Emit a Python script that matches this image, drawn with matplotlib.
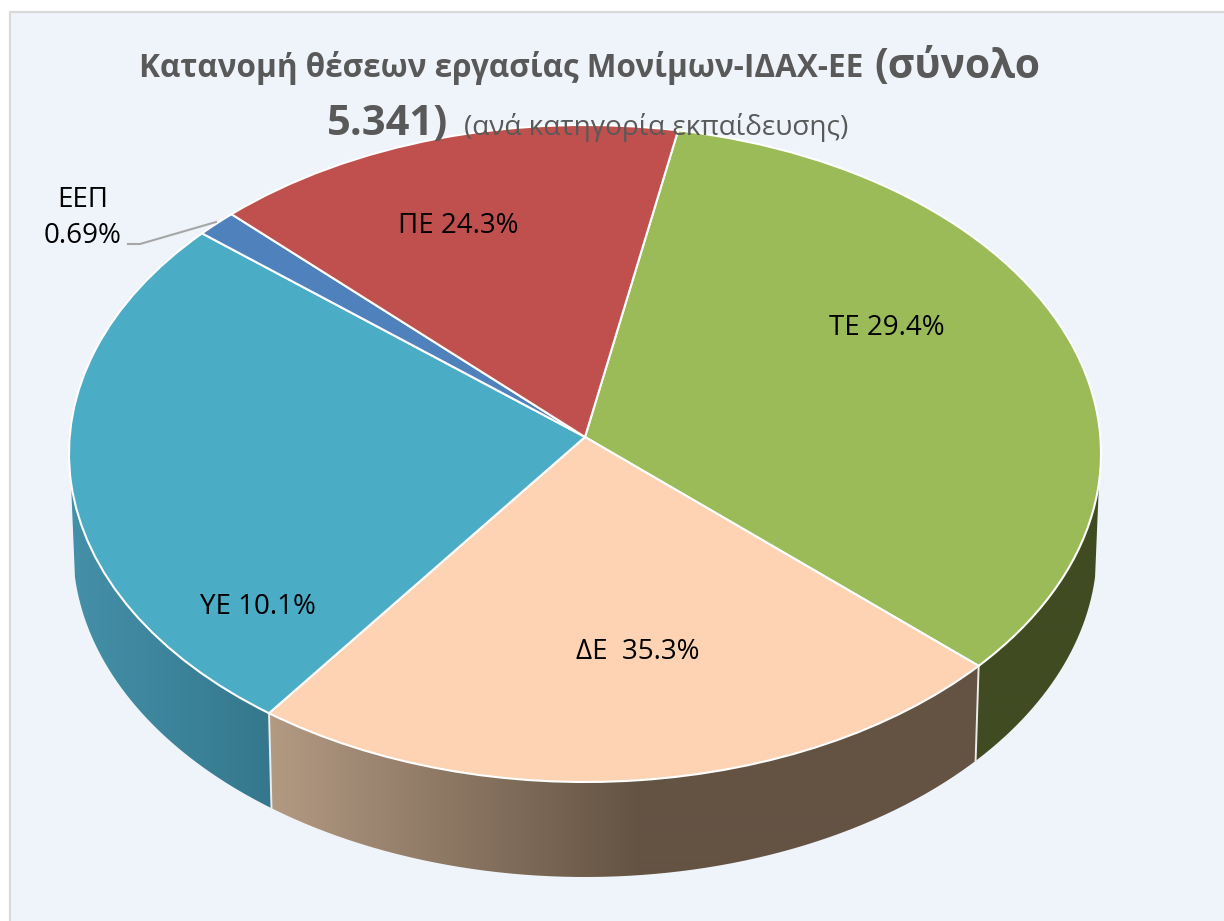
import numpy as np
import matplotlib
matplotlib.use('agg')
from matplotlib import pyplot as plt
from matplotlib.colors import LinearSegmentedColormap, to_rgb
from matplotlib.patches import PathPatch, Rectangle
from matplotlib.path import Path

W, H = 1224, 921

# slices in drawing order, clockwise from the TE/PE boundary
# the drawn areas do not follow the printed percentages, so both are kept
categories = ['ΤΕ', 'ΔΕ', 'ΥΕ', 'ΕΕΠ', 'ΠΕ']
drawn_shares = [33.3, 24.3, 26.2, 1.3, 14.9]
label_texts = ['ΤΕ 29.4%', 'ΔΕ  35.3%', 'ΥΕ 10.1%', 'ΕΕΠ\n0.69%', 'ΠΕ 24.3%']
top_colors = ['#9bbb59', '#fdd3b4', '#4bacc6', '#4f81bd', '#c0504d']

# wall gradient (left colour, right colour, x pixel range of the ramp)
wall_ramps = {'ΤΕ': ('#414b22', '#414b22', 975, 1101),
              'ΔΕ': ('#b39a83', '#645343', 268, 640),
              'ΥΕ': ('#4490a8', '#35788d', 72, 268)}

label_pos = {'ΤΕ': (887, 328), 'ΔΕ': (638, 652), 'ΥΕ': (258, 607),
             'ΕΕΠ': (83, 218), 'ΠΕ': (458, 226)}

FONT = 'Open Sans'
GREY = '#595959'

# geometry of the tilted pie, in pixels
cx, cy, rx, ry = 585, 453.5, 516, 328.5
apex_lift = 16.5 / ry
low_cy, low_rx, low_ry = 548.5, 512, 328.5
wall_from, wall_to = 95, 265
start_clock = 10.4


def fx(x):
    return x / W


def fy(y):
    return 1 - y / H


def rim(theta, c_y, r_x, r_y):
    # theta is clockwise from the top, result in data units of the axes
    t = np.radians(theta)
    return (r_x * np.sin(t) / rx,
            (cy - (c_y - r_y * np.cos(t))) / ry)


fig = plt.figure(figsize=(W / 100, H / 100), dpi=100, facecolor='white')

# chart panel with its grey border
fig.add_artist(Rectangle((fx(10), fy(H + 10)), (W + 10) / W, (H - 2) / H,
                         transform=fig.transFigure, fc='#eff4fb',
                         ec='#d9d9d9', lw=1.6, zorder=-1))

ax = fig.add_axes([0, 0, 1, 1])
ax.patch.set_alpha(0)

wedges, _ = ax.pie(drawn_shares, colors=top_colors, counterclock=False,
                   startangle=90 - start_clock, radius=1, normalize=True,
                   wedgeprops={'edgecolor': 'white', 'linewidth': 1.5,
                               'zorder': 5})

# move the apex up a little, as the perspective view does
for w in wedges:
    v = w.get_path().vertices
    r = np.hypot(v[:, 0], v[:, 1])
    v[:, 1] += apex_lift * np.clip(1 - r, 0, 1)

# side walls
edges = start_clock + np.cumsum([0] + drawn_shares) * 3.6 / (sum(drawn_shares) / 100)
for i, cat in enumerate(categories):
    a = max(edges[i], wall_from)
    b = min(edges[i + 1], wall_to)
    if cat not in wall_ramps or b <= a:
        continue
    th = np.linspace(a, b, 120)
    tx, ty = rim(th, cy, rx, ry)
    lx, ly = rim(th[::-1], low_cy, low_rx, low_ry)
    verts = np.r_[np.c_[tx, ty], np.c_[lx, ly], [[tx[0], ty[0]]]]
    clip = PathPatch(Path(verts), transform=ax.transData, fc='none', ec='none')
    ax.add_patch(clip)
    c0, c1, x0, x1 = wall_ramps[cat]
    ramp = LinearSegmentedColormap.from_list(cat, [to_rgb(c0), to_rgb(c1)])
    # colours hold after the ramp ends
    full = ((0 - cx) / rx, (W - cx) / rx, (cy - 900) / ry, (cy - 400) / ry)
    xs = np.linspace(full[0], full[1], W)
    im = ax.imshow(xs[None, :], cmap=ramp, vmin=(x0 - cx) / rx, vmax=(x1 - cx) / rx,
                   extent=full, aspect='auto', interpolation='bilinear', zorder=2)
    im.set_clip_path(clip)
    # white seam at the end of the slice wall
    if edges[i + 1] < wall_to:
        sx, sy = rim(edges[i + 1], cy, rx, ry)
        ex, ey = rim(edges[i + 1], low_cy, low_rx, low_ry)
        ax.plot([sx, ex], [sy, ey], color='#ececec', lw=1.4, zorder=3)

ax.set_aspect('auto')
ax.set_xlim((0 - cx) / rx, (W - cx) / rx)
ax.set_ylim((cy - H) / ry, cy / ry)

# title, three sizes like the original rich text
fig.text(fx(139), fy(77), 'Κατανομή θέσεων εργασίας Μονίμων-ΙΔΑΧ-ΕΕ', family=FONT,
         weight='bold', size=22.7, color=GREY, va='baseline', zorder=10)
fig.text(fx(874), fy(78), '(σύνολο', family=FONT, weight='bold', size=29.3,
         color=GREY, va='baseline', zorder=10)
fig.text(fx(327), fy(135), '5.341)', family=FONT, weight='bold', size=30,
         color=GREY, va='baseline', zorder=10)
fig.text(fx(464), fy(135), '(ανά κατηγορία εκπαίδευσης)', family=FONT, size=20.2,
         color=GREY, va='baseline', zorder=10)

# data labels
for cat, txt in zip(categories, label_texts):
    x, y = label_pos[cat]
    fig.text(fx(x), fy(y), txt, family=FONT, size=20, color='black',
             ha='center', va='center', linespacing=1.4, zorder=10)

# leader line of the small slice
fig.add_artist(plt.Line2D([fx(128), fx(140), fx(216)], [fy(244), fy(244), fy(222)],
                          color='#a6a6a6', lw=1.5, zorder=9))

fig.savefig('out.png', dpi=100)
